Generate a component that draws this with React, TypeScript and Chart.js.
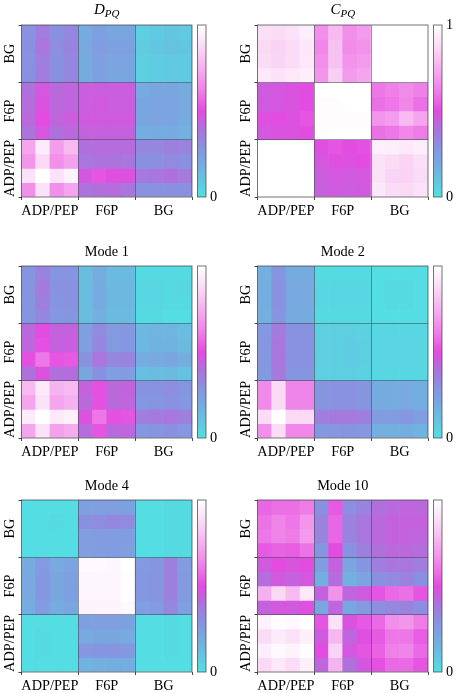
import React, { useEffect, useRef } from "react";
import { Chart, registerables } from "chart.js";

Chart.register(...registerables);

const groupLabels = ["ADP/PEP", "F6P", "BG"];
const groupCentres = [2, 6, 10];
const tickValues = [0, 2, 4, 6, 8, 10, 12];

const cmapStops = [0, 0.15, 0.3, 0.4, 0.5, 0.62, 0.75, 0.88, 1];
const cmapColors = [
  [82, 224, 226],
  [111, 181, 224],
  [138, 144, 224],
  [176, 112, 220],
  [227, 76, 224],
  [239, 128, 232],
  [245, 176, 239],
  [250, 220, 246],
  [255, 255, 255],
];

// Rows listed from the top of each panel down: BG, F6P, ADP/PEP
const dPQ = [
  [.29, .36, .30, .33, .19, .23, .21, .21, .06, .08, .09, .08],
  [.30, .38, .31, .34, .20, .25, .23, .23, .07, .09, .10, .09],
  [.29, .36, .30, .33, .19, .24, .22, .22, .06, .07, .08, .08],
  [.30, .36, .30, .33, .19, .23, .21, .21, .06, .07, .08, .08],
  [.40, .47, .42, .43, .45, .45, .45, .45, .20, .21, .21, .19],
  [.41, .48, .42, .43, .45, .46, .45, .45, .21, .22, .22, .20],
  [.42, .50, .43, .45, .46, .46, .46, .46, .21, .22, .22, .19],
  [.39, .47, .40, .42, .44, .44, .44, .44, .18, .19, .19, .17],
  [.72, .93, .70, .78, .40, .41, .41, .41, .33, .33, .35, .34],
  [.68, .87, .66, .71, .38, .39, .39, .38, .30, .30, .32, .30],
  [.90, 1.0, .90, .96, .47, .52, .49, .49, .37, .38, .40, .37],
  [.66, .90, .66, .72, .39, .40, .41, .38, .29, .29, .30, .30],
];
const cPQ = [
  [.89, .88, .90, .94, .66, .78, .66, .69, 1, 1, 1, 1],
  [.87, .85, .88, .92, .64, .80, .65, .67, 1, 1, 1, 1],
  [.88, .86, .88, .92, .66, .80, .67, .69, 1, 1, 1, 1],
  [.92, .90, .92, .95, .68, .84, .69, .72, 1, 1, 1, 1],
  [.46, .47, .48, .50, 1, 1, 1, 1, .60, .62, .65, .62],
  [.46, .47, .48, .50, .99, .99, 1, 1, .58, .60, .64, .58],
  [.49, .50, .49, .52, .99, .99, .99, .99, .68, .70, .78, .72],
  [.47, .48, .48, .50, .99, 1, 1, 1, .58, .60, .64, .61],
  [1, 1, 1, 1, .49, .52, .50, .51, .95, .94, .92, .94],
  [1, 1, 1, 1, .47, .49, .49, .50, .90, .88, .86, .89],
  [1, 1, 1, 1, .45, .47, .46, .47, .90, .86, .85, .88],
  [1, 1, 1, 1, .44, .46, .45, .46, .92, .88, .87, .90],
];
const mode1 = [
  [.28, .34, .28, .28, .12, .18, .13, .13, .02, .02, .02, .02],
  [.28, .37, .29, .29, .12, .19, .14, .14, .03, .03, .02, .03],
  [.28, .35, .28, .29, .12, .19, .14, .14, .03, .03, .02, .02],
  [.28, .33, .27, .28, .12, .17, .13, .13, .02, .02, .01, .01],
  [.42, .50, .44, .44, .24, .32, .26, .27, .14, .15, .15, .12],
  [.43, .51, .44, .45, .24, .33, .26, .27, .14, .16, .16, .13],
  [.51, .60, .52, .53, .29, .38, .33, .34, .18, .20, .21, .18],
  [.40, .48, .40, .41, .21, .30, .24, .25, .11, .12, .13, .10],
  [.78, .92, .76, .78, .44, .51, .42, .44, .29, .29, .31, .28],
  [.72, .90, .72, .75, .42, .51, .42, .43, .27, .28, .29, .27],
  [.93, 1.0, .92, .95, .48, .60, .51, .52, .36, .37, .38, .35],
  [.72, .90, .71, .74, .41, .52, .42, .43, .27, .28, .30, .27],
];
const mode2 = [
  [.17, .28, .19, .19, .02, .02, .02, .02, .01, .01, .01, .01],
  [.18, .29, .20, .20, .03, .03, .03, .03, .01, .02, .02, .01],
  [.18, .29, .20, .20, .03, .03, .03, .03, .01, .02, .02, .01],
  [.17, .28, .19, .19, .02, .02, .02, .02, .01, .01, .01, .01],
  [.27, .37, .29, .29, .06, .06, .06, .05, .03, .03, .03, .03],
  [.27, .38, .29, .29, .06, .06, .07, .06, .03, .04, .04, .03],
  [.27, .38, .29, .29, .06, .06, .07, .06, .03, .04, .04, .03],
  [.26, .37, .28, .28, .06, .06, .06, .05, .03, .03, .03, .03],
  [.65, .87, .63, .63, .28, .29, .29, .28, .19, .19, .20, .18],
  [.65, .87, .63, .63, .28, .29, .29, .28, .19, .19, .20, .18],
  [.88, 1.0, .87, .87, .36, .37, .37, .35, .25, .25, .27, .24],
  [.66, .88, .64, .64, .27, .27, .28, .27, .17, .17, .18, .16],
];
const mode4 = [
  [.01, .01, .01, .01, .23, .24, .24, .23, .01, .01, .02, .02],
  [.01, .01, .02, .01, .30, .31, .33, .32, .01, .01, .02, .02],
  [.01, .01, .01, .01, .24, .25, .25, .25, .01, .01, .02, .02],
  [.01, .01, .01, .01, .24, .25, .25, .24, .01, .01, .02, .02],
  [.19, .26, .20, .22, .98, .98, .97, 1.0, .26, .28, .35, .25],
  [.20, .27, .21, .23, .97, .97, .97, .99, .27, .28, .35, .26],
  [.20, .27, .21, .23, .97, .97, .97, .99, .27, .28, .35, .26],
  [.18, .25, .19, .21, .96, .96, .96, .98, .24, .26, .33, .24],
  [.01, .01, .01, .01, .23, .24, .24, .23, .01, .01, .02, .01],
  [.01, .02, .01, .01, .20, .21, .21, .20, .01, .01, .02, .01],
  [.01, .02, .01, .01, .27, .28, .28, .27, .01, .01, .02, .01],
  [.01, .01, .01, .01, .16, .17, .18, .18, .01, .01, .01, .01],
];
const mode10 = [
  [.56, .58, .58, .61, .30, .53, .31, .34, .40, .42, .43, .42],
  [.59, .63, .60, .68, .34, .56, .34, .38, .42, .44, .44, .44],
  [.60, .63, .61, .69, .34, .56, .34, .38, .42, .44, .44, .43],
  [.53, .55, .54, .59, .28, .50, .29, .35, .40, .42, .42, .41],
  [.46, .50, .48, .50, .25, .44, .22, .28, .36, .38, .38, .36],
  [.41, .46, .44, .47, .18, .41, .17, .22, .30, .32, .34, .30],
  [.75, .87, .78, .92, .44, .67, .43, .46, .52, .57, .58, .52],
  [.44, .47, .46, .49, .21, .43, .21, .26, .31, .33, .34, .31],
  [.96, .99, .98, 1.0, .52, .90, .48, .53, .57, .66, .68, .61],
  [.88, .93, .90, .95, .46, .77, .43, .49, .53, .60, .60, .54],
  [.94, .98, .96, .99, .50, .86, .47, .52, .55, .62, .63, .57],
  [.87, .92, .88, .95, .43, .76, .40, .47, .51, .57, .57, .52],
];

const FONT = "'Liberation Serif', 'Times New Roman', serif";
const TICK_SIZE = 14.3;
const PLOT = 172;
const TOP = 25;
const BOTTOM = 26;
const LEFT = 21.5;
const CANVAS_W = 195;
const CANVAS_H = TOP + PLOT + BOTTOM;
const GRID = "rgba(60,70,80,0.55)";
const TICK = "rgba(40,40,40,0.85)";
const FRAME = "rgba(70,70,70,0.75)";
const SOFTEN = "blur(0.35px)";

function colorOf(v: number): string {
  let i = 0;
  while (i < cmapStops.length - 2 && v > cmapStops[i + 1]) i++;
  const t = Math.min(1, Math.max(0, (v - cmapStops[i]) / (cmapStops[i + 1] - cmapStops[i])));
  const a = cmapColors[i];
  const b = cmapColors[i + 1];
  return `rgb(${a.map((c, k) => Math.round(c + (b[k] - c) * t)).join(",")})`;
}

const framePlugin = {
  id: "frame",
  afterDraw(chart: any) {
    const { left, top, width, height } = chart.chartArea;
    const ctx = chart.ctx;
    ctx.save();
    ctx.strokeStyle = FRAME;
    ctx.lineWidth = 1;
    ctx.strokeRect(left, top, width, height);
    ctx.restore();
  },
};

const panelTitlePlugin = {
  id: "panelTitle",
  afterDraw(chart: any, _args: any, opts: any) {
    if (!opts || !opts.main) return;
    const ctx = chart.ctx;
    const { left, right, top } = chart.chartArea;
    const cx = (left + right) / 2;
    const y = top - 10;
    ctx.save();
    ctx.fillStyle = "#000";
    ctx.textBaseline = "alphabetic";
    ctx.textAlign = "left";
    if (opts.sub) {
      ctx.font = `italic 15px ${FONT}`;
      const w1 = ctx.measureText(opts.main).width;
      ctx.font = `italic 11px ${FONT}`;
      const w2 = ctx.measureText(opts.sub).width;
      const x = cx - (w1 + w2) / 2;
      ctx.font = `italic 15px ${FONT}`;
      ctx.fillText(opts.main, x, y - 1);
      ctx.font = `italic 11px ${FONT}`;
      ctx.fillText(opts.sub, x + w1, y + 2);
    } else {
      ctx.font = `${TICK_SIZE}px ${FONT}`;
      ctx.fillText(opts.main, cx - ctx.measureText(opts.main).width / 2, y);
    }
    ctx.restore();
  },
};

function groupLabel(value: number | string): string {
  const i = groupCentres.indexOf(Number(value));
  return i >= 0 ? groupLabels[i] : "";
}

function gridColor(ctx: any): string {
  const v = ctx.tick?.value;
  return v === 4 || v === 8 ? GRID : "transparent";
}

function tickColor(ctx: any): string {
  const v = ctx.tick?.value;
  return v % 4 === 0 ? TICK : "transparent";
}

function setTicks(scale: any) {
  scale.ticks = tickValues.map((value) => ({ value }));
}

function Heat({ matrix, main, sub, x, y }: { matrix: number[][]; main: string; sub?: string; x: number; y: number }) {
  const ref = useRef<HTMLCanvasElement>(null);
  useEffect(() => {
    const datasets = matrix.map((row, r) => ({
      data: row.map((_, c) => ({ x: c + 0.5, y: [matrix.length - r - 1, matrix.length - r] })),
      backgroundColor: row.map(colorOf),
      borderWidth: 0,
      grouped: false,
      barPercentage: 1,
      categoryPercentage: 1,
    }));
    const chart = new Chart(ref.current as HTMLCanvasElement, {
      type: "bar",
      data: { datasets: datasets as any },
      plugins: [framePlugin, panelTitlePlugin],
      options: {
        animation: false,
        responsive: false,
        layout: { padding: { left: 0, top: TOP, right: CANVAS_W - LEFT - PLOT, bottom: 0 } },
        plugins: { legend: { display: false }, tooltip: { enabled: false }, panelTitle: { main, sub } } as any,
        scales: {
          x: {
            type: "linear",
            offset: false,
            min: 0,
            max: 12,
            afterBuildTicks: setTicks,
            afterFit: (s: any) => { s.height = BOTTOM; },
            border: { display: false },
            grid: { offset: false, color: gridColor, tickColor, tickLength: 3, z: 1, lineWidth: 1 },
            ticks: {
              callback: groupLabel,
              autoSkip: false,
              maxRotation: 0,
              minRotation: 0,
              padding: 3,
              color: "#000",
              font: { family: FONT, size: TICK_SIZE },
            },
          },
          y: {
            type: "linear",
            min: 0,
            max: 12,
            afterBuildTicks: setTicks,
            afterFit: (s: any) => { s.width = LEFT; },
            border: { display: false },
            grid: { color: gridColor, tickColor, tickLength: 3, z: 1, lineWidth: 1 },
            ticks: {
              callback: groupLabel,
              autoSkip: false,
              minRotation: 90,
              maxRotation: 90,
              crossAlign: "center",
              padding: -20,
              color: "#000",
              font: { family: FONT, size: TICK_SIZE },
            },
          },
        } as any,
      },
    });
    return () => chart.destroy();
  }, []);
  return (
    <canvas
      ref={ref}
      width={CANVAS_W}
      height={CANVAS_H}
      style={{ position: "absolute", left: x, top: y, width: CANVAS_W, height: CANVAS_H, display: "block", filter: SOFTEN }}
    />
  );
}

function ColorBar({ labels, x, y }: { labels: number[]; x: number; y: number }) {
  const ref = useRef<HTMLCanvasElement>(null);
  useEffect(() => {
    const chart = new Chart(ref.current as HTMLCanvasElement, {
      type: "bar",
      data: {
        labels: ["colour"],
        datasets: [
          {
            data: [[0, 1]] as any,
            borderWidth: 0,
            barPercentage: 1,
            categoryPercentage: 1,
            backgroundColor: (ctx: any) => {
              const c = ctx.chart;
              if (!c.chartArea || !c.scales.y) return "#fff";
              const g = c.ctx.createLinearGradient(0, c.scales.y.getPixelForValue(0), 0, c.scales.y.getPixelForValue(1));
              for (let i = 0; i < cmapStops.length; i++) g.addColorStop(cmapStops[i], colorOf(cmapStops[i]));
              return g;
            },
          },
        ],
      },
      plugins: [framePlugin],
      options: {
        animation: false,
        responsive: false,
        layout: { padding: { left: 2.5, top: TOP, right: 0, bottom: BOTTOM } },
        plugins: { legend: { display: false }, tooltip: { enabled: false } },
        scales: {
          x: { display: false },
          y: {
            position: "right",
            min: 0,
            max: 1,
            afterBuildTicks: (s: any) => { s.ticks = labels.map((value) => ({ value })); },
            afterFit: (s: any) => { s.width = 15; },
            border: { display: false },
            grid: { display: false, drawTicks: false },
            ticks: {
              autoSkip: false,
              padding: 4,
              color: "#000",
              font: { family: FONT, size: TICK_SIZE },
              callback: (v: any) => String(v),
            },
          },
        } as any,
      },
    });
    return () => chart.destroy();
  }, []);
  return (
    <canvas
      ref={ref}
      width={26}
      height={CANVAS_H}
      style={{ position: "absolute", left: x, top: y, width: 26, height: CANVAS_H, display: "block", filter: SOFTEN }}
    />
  );
}

const colX = [0, 236];
const rowY = [0, 241, 475];
const barOffset = 195;

export default function App() {
  const panels = [
    { matrix: dPQ, main: "D", sub: "PQ", c: 0, r: 0, bar: [0] },
    { matrix: cPQ, main: "C", sub: "PQ", c: 1, r: 0, bar: [0, 1] },
    { matrix: mode1, main: "Mode 1", c: 0, r: 1, bar: [0] },
    { matrix: mode2, main: "Mode 2", c: 1, r: 1, bar: [0] },
    { matrix: mode4, main: "Mode 4", c: 0, r: 2, bar: [0] },
    { matrix: mode10, main: "Mode 10", c: 1, r: 2, bar: [0] },
  ];
  return (
    <>
      {panels.map((p) => (
        <React.Fragment key={p.main + (p.sub ?? "")}>
          <Heat matrix={p.matrix} main={p.main} sub={p.sub} x={colX[p.c]} y={rowY[p.r]} />
          <ColorBar labels={p.bar} x={colX[p.c] + barOffset} y={rowY[p.r]} />
        </React.Fragment>
      ))}
    </>
  );
}
